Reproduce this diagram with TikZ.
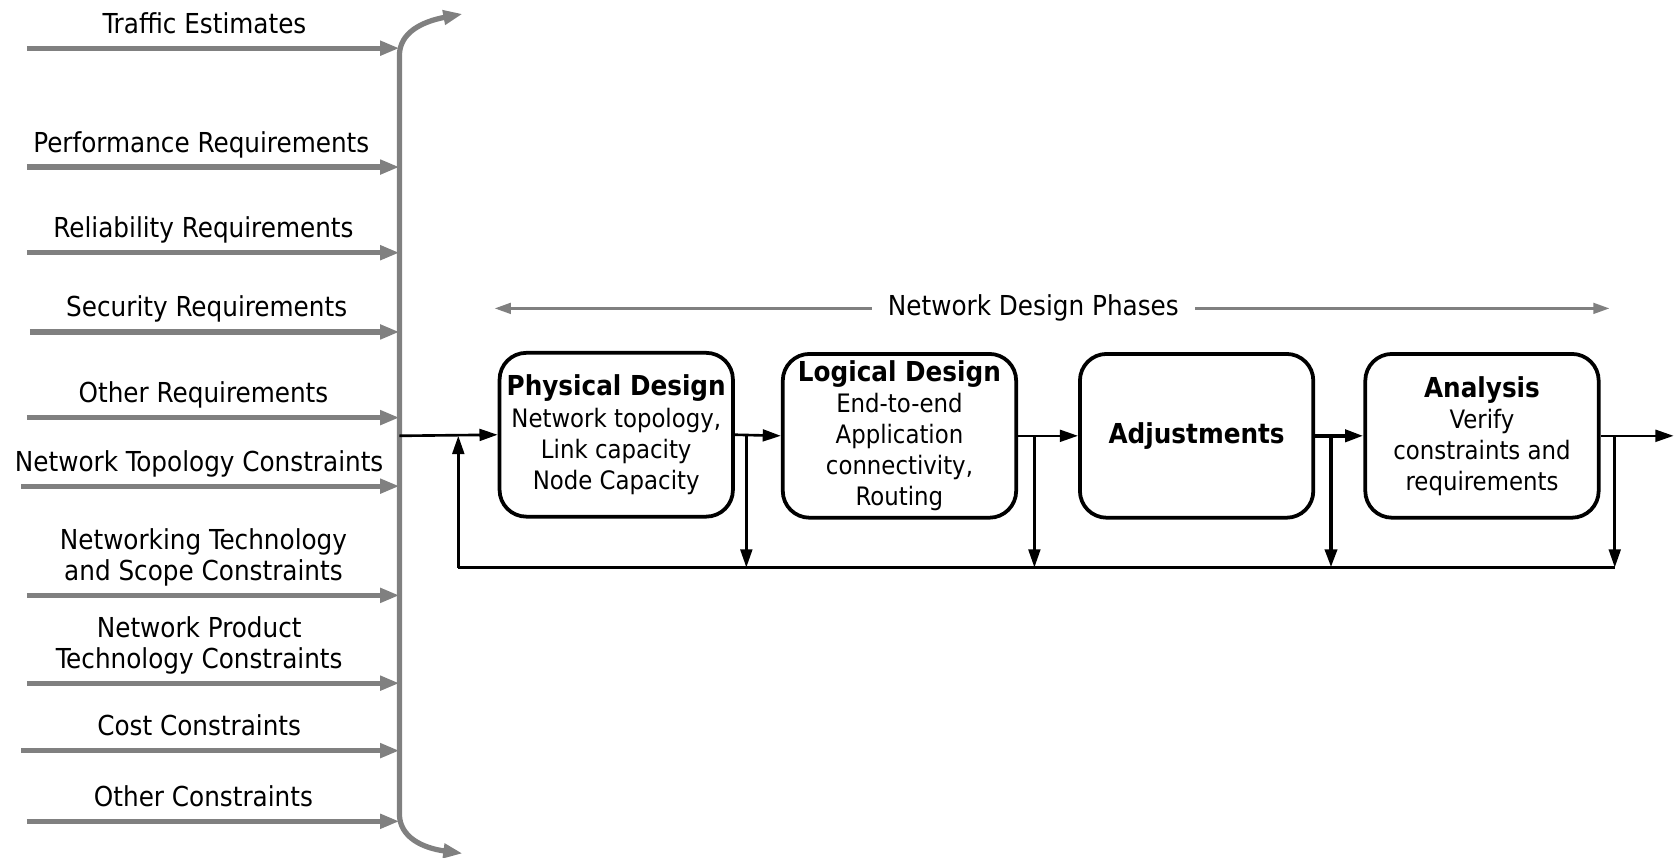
\documentclass[tikz,border=0pt]{standalone}
\usepackage{fontspec}
\setmainfont{DejaVu Sans Condensed}
\usetikzlibrary{arrows.meta}
\definecolor{busgray}{HTML}{808080}
\newcommand{\phasetitle}{\fontsize{14.6pt}{16.5pt}\selectfont\bfseries}

\begin{document}
\begin{tikzpicture}[x=0.02cm,y=-0.02cm,
  font=\fontsize{13.5pt}{16.5pt}\selectfont,
  feed/.style={draw=busgray, line width=2.8pt, -{Triangle[length=0.36cm,width=0.26cm]}},
  bus/.style={draw=busgray, line width=2.8pt},
  flow/.style={draw=black, line width=1.4pt, -{Triangle[length=0.34cm,width=0.22cm]}},
  phase/.style={draw=black, line width=2pt, rounded corners=0.5cm,
    minimum width=4.36cm, minimum height=3.06cm, align=center, inner sep=2pt},
  inlabel/.style={anchor=base, align=center, inner sep=0pt,
    font=\fontsize{14.6pt}{16.5pt}\selectfont},
]
\useasboundingbox (0,0) rectangle (1568,801);

% input bus with curved ends
\coordinate (busTop) at (432,13);
\coordinate (busBot) at (432,797);
\draw[bus, {Triangle[length=0.36cm,width=0.26cm]}-{Triangle[length=0.36cm,width=0.26cm]}]
  (busTop) .. controls (395,20) and (373,30) .. (373,52)
  -- (373,760) .. controls (373,782) and (395,792) .. (busBot);

% inputs feeding the bus
\foreach \y/\xs/\lx/\txt [count=\i] in {
  45/25/191/{Traffic Estimates},
  156/25/188/{Performance Requirements},
  236/25/190/{Reliability Requirements},
  310/28/193/{Security Requirements},
  390/25/190/{Other Requirements},
  454/20/186/{Network Topology Constraints},
  556/25/190/{Networking Technology\\and Scope Constraints},
  638/25/186/{Network Product\\Technology Constraints},
  701/20/186/{Cost Constraints},
  767/25/190/{Other Constraints}} {
  \coordinate (inS\i) at (\xs,\y);
  \coordinate (inE\i) at (373,\y);
  \draw[feed] (inS\i) -- (inE\i);
  \node[inlabel] (lab\i) at (\lx,\y-14) {\txt};
}

% design phases
\node[phase] (phys) at (575.5,406) {{\phasetitle Physical Design}\\Network topology,\\Link capacity\\Node Capacity};
\node[phase] (logi) at (840,407) {{\phasetitle Logical Design}\\End-to-end\\Application\\connectivity,\\Routing};
\node[phase] (adj) at (1117.5,407) {{\phasetitle Adjustments}};
\node[phase] (ana) at (1384,407) {{\phasetitle Analysis}\\Verify\\constraints and\\requirements};

% phase span indicator
\coordinate (phL) at (462,288);
\coordinate (phR) at (1503,288);
\draw[draw=busgray, line width=1.3pt, {Triangle[length=0.3cm,width=0.2cm]}-{Triangle[length=0.3cm,width=0.2cm]}]
  (phL) -- (phR);
\node[fill=white, inner xsep=0.3cm, font=\fontsize{14.6pt}{16.5pt}\selectfont] (phlabel) at (965,288) {Network Design Phases};

% forward flow
\coordinate (busOut) at (373,407);
\coordinate (sink) at (1563,407);
\draw[flow] (busOut) -- (phys.west);
\draw[flow] (phys.east) -- (logi.west);
\draw[flow] (logi.east) -- (adj.west);
\draw[flow, line width=2.2pt] (adj.east) -- (ana.west);
\draw[flow] (ana.east) -- (sink);

% feedback loop
\coordinate (fbL) at (428,530);
\coordinate (fbR) at (1508,530);
\coordinate (t1) at (697,407);
\coordinate (t2) at (966,407);
\coordinate (t3) at (1243,407);
\coordinate (t4) at (1508,407);
\draw[flow] (t1) -- (t1 |- fbL);
\draw[flow] (t2) -- (t2 |- fbL);
\draw[flow, line width=2.2pt] (t3) -- (t3 |- fbL);
\draw[flow] (t4) -- (t4 |- fbL);
\draw[black, line width=1.4pt] (fbR) -- (fbL);
\draw[flow] (fbL) -- (fbL |- busOut);
\end{tikzpicture}
\end{document}
